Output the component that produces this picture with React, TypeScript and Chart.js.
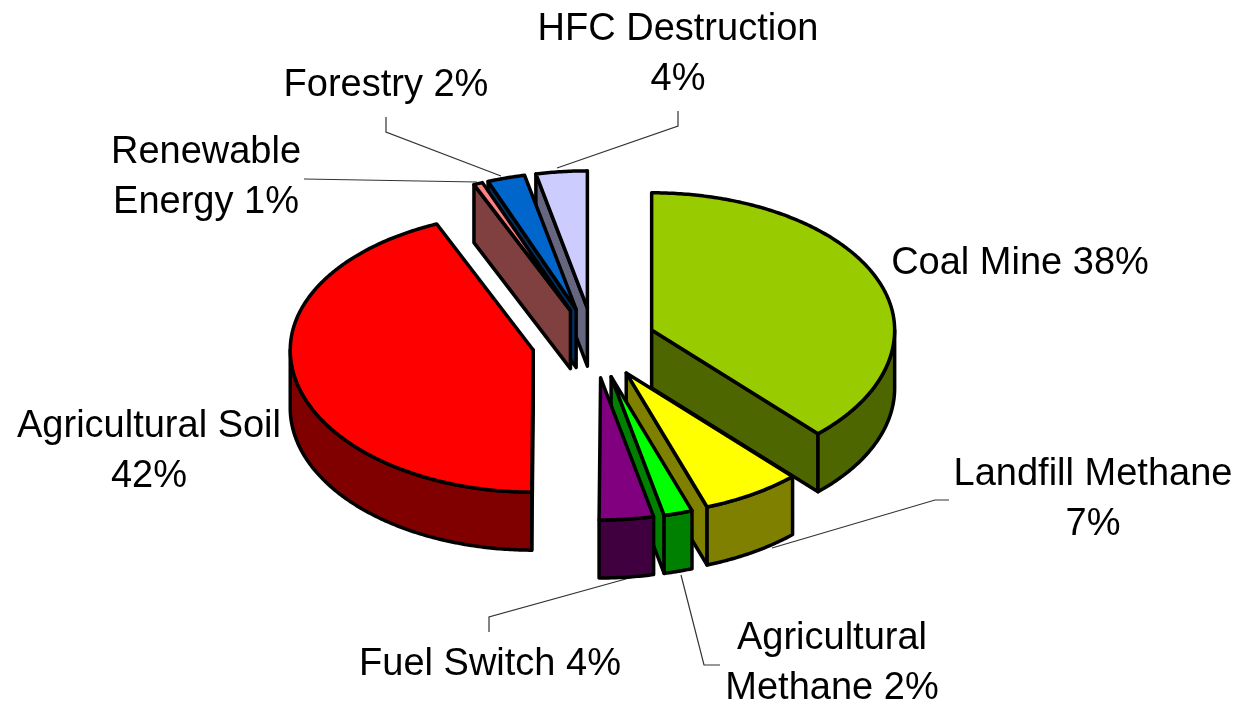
import React, { useEffect, useRef } from "react";
import { Chart, registerables } from "chart.js";

Chart.register(...registerables);

const categories = ["Coal Mine", "Landfill Methane", "Agricultural Methane", "Fuel Switch", "Agricultural Soil", "Renewable Energy", "Forestry", "HFC Destruction"];
// The percentages printed in the labels.
const printedShares = [38, 7, 2, 4, 42, 1, 2, 4];
// The wedge sizes as measured on the picture (they differ a little from the printed figures).
const wedgeSizes = [38, 6.6, 1.9, 3.6, 43.4, 0.6, 2.5, 3.4];
const topColors = ["#99CC00", "#FFFF00", "#00FF00", "#800080", "#FF0000", "#FF8080", "#0066CC", "#CCCCFF"];
const sideColors = ["#4D6600", "#808000", "#008000", "#400040", "#800000", "#804040", "#003366", "#666680"];
// Words of the label (category + value) that stay on the first line; 0 = one line.
const wordsOnFirstLine = [0, 2, 1, 0, 2, 1, 0, 2];

const labelCenters = [
  [1020, 264], [1093, 475], [832, 639], [490, 665],
  [149, 427], [206, 153], [386, 86], [678, 30],
];
const leaderLines = [
  [],
  [[949, 500], [935, 500], [772, 548]],
  [[720, 665], [704, 665], [681, 575]],
  [[489, 632], [489, 617], [633, 577]],
  [],
  [[304, 179], [477, 182]],
  [[386, 117], [386, 132], [501, 176]],
  [[678, 111], [678, 126], [557, 168]],
];

const SQUASH_BACK = 0.565;
const SQUASH_FRONT = 0.585;
const DEPTH = 58;
const LINE_HEIGHT = 50;
const FONT = '38px "Liberation Sans", Arial, sans-serif';

function labelRows(i: number): string[] {
  const words = `${categories[i]} ${printedShares[i]}%`.split(" ");
  const n = wordsOnFirstLine[i];
  return n === 0 ? [words.join(" ")] : [words.slice(0, n).join(" "), words.slice(n).join(" ")];
}

const pie3d = {
  id: "pie3d",
  beforeDatasetDraw(chart: any) {
    const ctx: CanvasRenderingContext2D = chart.ctx;
    const arcs = chart.getDatasetMeta(0).data as any[];

    ctx.save();
    ctx.strokeStyle = "#333333";
    ctx.lineWidth = 1.2;
    leaderLines.forEach((pts) => {
      if (!pts.length) return;
      ctx.beginPath();
      pts.forEach(([x, y], k) => (k ? ctx.lineTo(x, y) : ctx.moveTo(x, y)));
      ctx.stroke();
    });
    ctx.restore();

    const items = arcs.map((arc, i) => {
      const { x, y, startAngle, endAngle, outerRadius } = arc.getProps(["x", "y", "startAngle", "endAngle", "outerRadius"], true);
      const mid = (startAngle + endAngle) / 2;
      // Chart.js moves an arc by offset / 4 along its middle angle.
      const d = (arc.options.offset || 0) / 4;
      const ox = x + Math.cos(mid) * d;
      const oy = y + Math.sin(mid) * d * SQUASH_BACK;
      return { i, ox, oy, a0: startAngle, a1: endAngle, r: outerRadius, key: Math.sin(mid) };
    });
    items.sort((p, q) => p.key - q.key);

    ctx.save();
    ctx.lineWidth = 3.5;
    ctx.lineJoin = "round";
    ctx.strokeStyle = "#000000";
    const paint = (fill: string) => {
      ctx.closePath();
      ctx.fillStyle = fill;
      ctx.fill();
      ctx.stroke();
    };
    for (const s of items) {
      const px = (a: number) => s.ox + Math.cos(a) * s.r;
      const py = (a: number) => s.oy + Math.sin(a) * s.r * (Math.sin(a) > 0 ? SQUASH_FRONT : SQUASH_BACK);
      const rim = (from: number, to: number, dy: number) => {
        const steps = Math.max(2, Math.ceil(Math.abs(to - from) / 0.01));
        for (let k = 0; k <= steps; k++) {
          const a = from + ((to - from) * k) / steps;
          ctx.lineTo(px(a), py(a) + dy);
        }
      };
      const side = sideColors[s.i];
      const cutFace = (a: number) => {
        ctx.beginPath();
        ctx.moveTo(s.ox, s.oy);
        ctx.lineTo(px(a), py(a));
        ctx.lineTo(px(a), py(a) + DEPTH);
        ctx.lineTo(s.ox, s.oy + DEPTH);
        paint(side);
      };
      if (-Math.cos(s.a0) > 1e-6) cutFace(s.a0);
      if (Math.cos(s.a1) > 1e-6) cutFace(s.a1);
      const w0 = Math.max(s.a0, 0);
      const w1 = Math.min(s.a1, Math.PI);
      if (w1 > w0) {
        ctx.beginPath();
        ctx.moveTo(px(w0), py(w0));
        rim(w0, w1, 0);
        rim(w1, w0, DEPTH);
        paint(side);
      }
      ctx.beginPath();
      ctx.moveTo(s.ox, s.oy);
      rim(s.a0, s.a1, 0);
      paint(topColors[s.i]);
    }
    ctx.restore();

    ctx.save();
    ctx.font = FONT;
    ctx.fillStyle = "#000000";
    ctx.textAlign = "center";
    ctx.textBaseline = "middle";
    categories.forEach((_, i) => {
      const [cx, cy] = labelCenters[i];
      labelRows(i).forEach((row, k) => ctx.fillText(row, cx, cy + k * LINE_HEIGHT));
    });
    ctx.restore();
    return false;
  },
};

export default function App() {
  const ref = useRef<HTMLCanvasElement>(null);
  useEffect(() => {
    const chart = new Chart(ref.current!, {
      type: "pie",
      data: {
        labels: categories,
        datasets: [{ data: wedgeSizes, backgroundColor: topColors, offset: 248, borderColor: "#000000", borderWidth: 3 }],
      },
      options: {
        animation: false,
        responsive: false,
        radius: 243,
        layout: { padding: { right: 48, bottom: 17 } },
        plugins: { legend: { display: false }, tooltip: { enabled: false } },
      } as any,
      plugins: [pie3d as any],
    });
    return () => chart.destroy();
  }, []);
  return (
    <div style={{ position: "fixed", left: 0, top: 0, width: 1236, height: 703, background: "#fff" }}>
      <canvas ref={ref} width={1236} height={703} style={{ display: "block" }} />
    </div>
  );
}
